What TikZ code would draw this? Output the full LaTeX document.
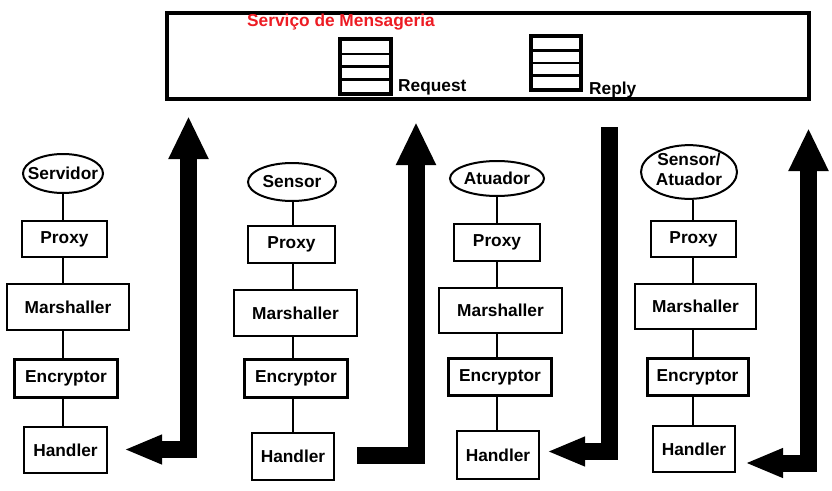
\documentclass[tikz,border=0pt]{standalone}
\usepackage{fontspec}
\setmainfont{Liberation Sans}
\usetikzlibrary{shapes.geometric,arrows.meta}
\definecolor{paintred}{RGB}{237,28,36}
\tikzset{
  uphead/.tip={Triangle[length=43pt,width=37pt]},
  sidehead/.tip={Triangle[length=38pt,width=27pt]}
}
\newcommand{\ovaltext}[1]{\makebox[0pt]{#1}}
\begin{document}
\begin{tikzpicture}[x=1pt,y=-1pt,
  lbl/.style={font=\bfseries\fontsize{17.3}{20}\selectfont},
  box/.style 2 args={lbl, draw, line width=2pt, rectangle, inner sep=0pt,
    minimum width=#1pt-2pt, minimum height=#2pt-2pt},
  encbox/.style 2 args={lbl, draw, line width=3pt, rectangle, inner sep=0pt,
    minimum width=#1pt-3pt, minimum height=#2pt-3pt},
  oval/.style 2 args={lbl, draw, line width=2pt, ellipse, inner sep=0pt,
    minimum width=#1pt-2pt, minimum height=#2pt-2pt},
  link/.style={line width=2pt},
  bigarrow/.style={line width=17pt, line join=miter, draw=black},
  queue/.style={draw, line width=4pt},
  cell/.style={line width=2.5pt}
]
\useasboundingbox (0,0) rectangle (832,490);

% Messaging service
\node[draw, line width=4pt, minimum width=642pt, minimum height=86pt, inner sep=0pt] (svc) at (488,56) {};
\node[lbl, text=paintred, anchor=base west, inner sep=0pt] (title) at (247,26) {Serviço de Mensageria};

% Request queue
\draw[queue] (340,39) rectangle (391,94);
\coordinate (rq) at (340,0);
\coordinate (rqe) at (391,0);
\foreach \yy in {53.75,66.5,79.25} \draw[cell] (rq |- 0,\yy) -- (rqe |- 0,\yy);
\node[lbl, anchor=base west, inner sep=0pt] (reqlbl) at (398,91) {Request};

% Reply queue
\draw[queue] (531,36) rectangle (581,90);
\coordinate (rp) at (531,0);
\coordinate (rpe) at (581,0);
\foreach \yy in {50.5,63,75.5} \draw[cell] (rp |- 0,\yy) -- (rpe |- 0,\yy);
\node[lbl, anchor=base west, inner sep=0pt] (replbl) at (589,94) {Reply};

% Column 1
\node[oval={82}{41}] (s1) at (63,173.5) {\ovaltext{Servidor}};
\node[box={87}{38}] (p1) at (64.5,239) {Proxy};
\node[box={124}{48}] (m1) at (68,307) {Marshaller};
\node[encbox={106}{41}] (e1) at (66,378.5) {Encryptor};
\node[box={85}{48}] (h1) at (65.5,450) {Handler};
\coordinate (c1) at (63,0);

% Column 2
\node[oval={90}{40}] (s2) at (292,182) {\ovaltext{Sensor}};
\node[box={89}{39}] (p2) at (291.5,244.5) {Proxy};
\node[box={125}{48}] (m2) at (295.5,313) {Marshaller};
\node[encbox={106}{41}] (e2) at (296,378.5) {Encryptor};
\node[box={84}{49}] (h2) at (293,456.5) {Handler};
\coordinate (c2) at (293,0);

% Column 3
\node[oval={96}{37}] (s3) at (497,178.5) {\ovaltext{Atuador}};
\node[box={88}{39}] (p3) at (497,242.5) {Proxy};
\node[box={125}{47}] (m3) at (500.5,310.5) {Marshaller};
\node[encbox={106}{40}] (e3) at (500,377) {Encryptor};
\node[box={84}{50}] (h3) at (498,455) {Handler};
\coordinate (c3) at (497,0);

% Column 4
\node[oval={98}{54}] (s4) at (689,172) {\ovaltext{\renewcommand{\arraystretch}{0.9}\begin{tabular}{@{}c@{}}Sensor/\\[2pt]Atuador\end{tabular}}};
\node[box={87}{38}] (p4) at (693.5,239) {Proxy};
\node[box={123}{47}] (m4) at (695.5,306.5) {Marshaller};
\node[encbox={104}{40}] (e4) at (697.5,377) {Encryptor};
\node[box={84}{48}] (h4) at (694,449) {Handler};
\coordinate (c4) at (693,0);

% vertical links
\foreach \c/\n in {c1/1,c2/2,c3/3,c4/4}{
  \draw[link] (\c |- s\n.south) -- (\c |- p\n.north);
  \draw[link] (\c |- p\n.south) -- (\c |- m\n.north);
  \draw[link] (\c |- m\n.south) -- (\c |- e\n.north);
  \draw[link] (\c |- e\n.south) -- (\c |- h\n.north);
}

% Big arrows
\coordinate (a1l) at (124,449.5);
\coordinate (a1c) at (188.5,449.5);
\coordinate (a1t) at (188.5,116);
\draw[bigarrow, sidehead-uphead] (a1l) -- (a1c) -- (a1t);

\coordinate (a2s) at (357,455.5);
\coordinate (a2c) at (416,455.5);
\coordinate (a2t) at (416,122);
\draw[bigarrow, -uphead] (a2s) -- (a2c) -- (a2t);

\coordinate (a3s) at (609,127);
\coordinate (a3c) at (609,451.5);
\coordinate (a3t) at (547,451.5);
\draw[bigarrow, -sidehead] (a3s) -- (a3c) -- (a3t);

\coordinate (a4l) at (745,463);
\coordinate (a4c) at (808.5,463);
\coordinate (a4t) at (808.5,128);
\draw[bigarrow, sidehead-uphead] (a4l) -- (a4c) -- (a4t);
\end{tikzpicture}
\end{document}
